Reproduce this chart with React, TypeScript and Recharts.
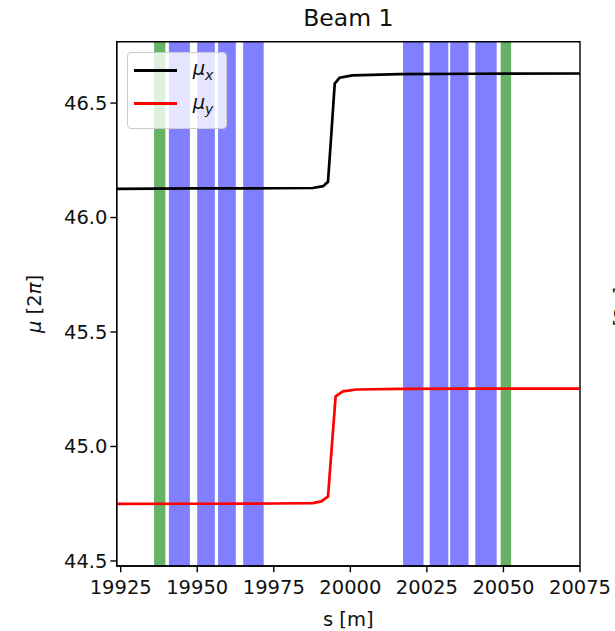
import { ComposedChart, Line, XAxis, YAxis, ReferenceArea } from 'recharts'

const S_MIN = 19923.7
const S_MAX = 20075
const MU_MIN = 44.478
const MU_MAX = 46.768

const S_TICKS = [19925, 19950, 19975, 20000, 20025, 20050, 20075]
const MU_TICKS = [44.5, 45.0, 45.5, 46.0, 46.5]

// phase advance, horizontal
const sX = [19923.7, 19950, 19975, 19987.7, 19991.1, 19992.7, 19993.8, 19994.9, 19996.5, 20000.7, 20016.1, 20040, 20075]
const muX = [46.125, 46.127, 46.128, 46.129, 46.137, 46.156, 46.366, 46.585, 46.611, 46.621, 46.626, 46.628, 46.629]

// phase advance, vertical
const sY = [19923.7, 19950, 19975, 19987.7, 19990.5, 19992.7, 19995.2, 19997.6, 20001.9, 20016.1, 20040, 20075]
const muY = [44.749, 44.75, 44.751, 44.753, 44.76, 44.781, 45.219, 45.241, 45.249, 45.252, 45.253, 45.253]

// element spans [start, end] in s
const blueBands = [
  [19940.75, 19947.6],
  [19950.0, 19955.75],
  [19956.8, 19962.6],
  [19965.0, 19971.7],
  [20017.2, 20023.9],
  [20025.9, 20032.0],
  [20032.6, 20038.6],
  [20040.8, 20047.8],
]
const greenBands = [
  [19935.9, 19939.6],
  [20049.1, 20052.5],
]

const FONT = '"DejaVu Sans", sans-serif'
const TEXT = '#111'
const FS = 19.5

const xData = sX.map((s, i) => ({ s, v: muX[i] }))
const yData = sY.map((s, i) => ({ s, v: muY[i] }))

function MuLabel({ style }: { style: React.CSSProperties }) {
  return (
    <div
      style={{
        position: 'absolute',
        fontSize: FS,
        color: TEXT,
        whiteSpace: 'nowrap',
        transform: 'translate(-50%, -50%) rotate(-90deg)',
        ...style,
      }}
    >
      <i>μ</i> [2<i>π</i>]
    </div>
  )
}

export default function App() {
  return (
    <div
      style={{
        position: 'absolute',
        left: 0,
        top: 0,
        width: 615,
        height: 631,
        overflow: 'hidden',
        background: '#fff',
        fontFamily: FONT,
      }}
    >
      <ComposedChart
        width={615}
        height={631}
        margin={{ top: 41.7, right: 35, bottom: 0, left: 0 }}
      >
        {blueBands.map(([a, b], i) => (
          <ReferenceArea
            key={`b-${i}`}
            x1={a}
            x2={b}
            y1={MU_MIN}
            y2={MU_MAX}
            fill="#0000ff"
            fillOpacity={0.5}
            stroke="none"
          />
        ))}
        {greenBands.map(([a, b], i) => (
          <ReferenceArea
            key={`g-${i}`}
            x1={a}
            x2={b}
            y1={MU_MIN}
            y2={MU_MAX}
            fill="#008000"
            fillOpacity={0.6}
            stroke="none"
          />
        ))}
        <XAxis
          type="number"
          dataKey="s"
          domain={[S_MIN, S_MAX]}
          ticks={S_TICKS}
          interval={0}
          allowDataOverflow
          height={65}
          tickSize={6.3}
          tickMargin={8}
          stroke="#000"
          strokeWidth={1.4}
          tick={{ fill: TEXT, fontSize: FS, fontFamily: FONT }}
        />
        <YAxis
          type="number"
          domain={[MU_MIN, MU_MAX]}
          ticks={MU_TICKS}
          interval={0}
          allowDataOverflow
          width={116.7}
          tickSize={6.3}
          tickMargin={3}
          stroke="#000"
          strokeWidth={1.4}
          tickFormatter={(v: number) => v.toFixed(1)}
          tick={{ fill: TEXT, fontSize: FS, fontFamily: FONT }}
        />
        <Line
          data={xData}
          dataKey="v"
          type="linear"
          stroke="#000"
          strokeWidth={2.7}
          dot={false}
          activeDot={false}
          isAnimationActive={false}
        />
        <Line
          data={yData}
          dataKey="v"
          type="linear"
          stroke="#ff0000"
          strokeWidth={2.7}
          dot={false}
          activeDot={false}
          isAnimationActive={false}
        />
        <ReferenceArea
          x1={S_MIN}
          x2={S_MAX}
          y1={MU_MIN}
          y2={MU_MAX}
          fill="none"
          stroke="#000"
          strokeWidth={1.4}
        />
      </ComposedChart>

      {/* title */}
      <div
        style={{
          position: 'absolute',
          left: 348.3,
          top: 18,
          transform: 'translate(-50%, -50%)',
          fontSize: 23.5,
          color: TEXT,
          whiteSpace: 'nowrap',
        }}
      >
        Beam 1
      </div>

      {/* x axis label */}
      <div
        style={{
          position: 'absolute',
          left: 348.3,
          top: 619,
          transform: 'translate(-50%, -50%)',
          fontSize: FS,
          color: TEXT,
          whiteSpace: 'nowrap',
        }}
      >
        s [m]
      </div>

      <MuLabel style={{ left: 34, top: 304 }} />
      {/* neighbouring subplot's label, cut at the edge */}
      <MuLabel style={{ left: 621, top: 316 }} />

      {/* legend */}
      <div
        style={{
          position: 'absolute',
          left: 126.7,
          top: 51.7,
          width: 100,
          height: 77,
          boxSizing: 'border-box',
          background: 'rgba(255,255,255,0.8)',
          border: '1px solid #cccccc',
          borderRadius: 4,
        }}
      >
        {[
          { color: '#000', sub: 'x', y: 17.6 },
          { color: '#ff0000', sub: 'y', y: 51 },
        ].map((row) => (
          <div key={row.sub}>
            <div
              style={{
                position: 'absolute',
                left: 6,
                top: row.y - 1.35,
                width: 43.7,
                height: 2.7,
                background: row.color,
              }}
            />
            <div
              style={{
                position: 'absolute',
                left: 65,
                top: row.y,
                transform: 'translateY(-50%)',
                fontSize: FS,
                color: TEXT,
                whiteSpace: 'nowrap',
              }}
            >
              <i>μ</i>
              <sub style={{ fontSize: 14, fontStyle: 'italic' }}>{row.sub}</sub>
            </div>
          </div>
        ))}
      </div>
    </div>
  )
}
